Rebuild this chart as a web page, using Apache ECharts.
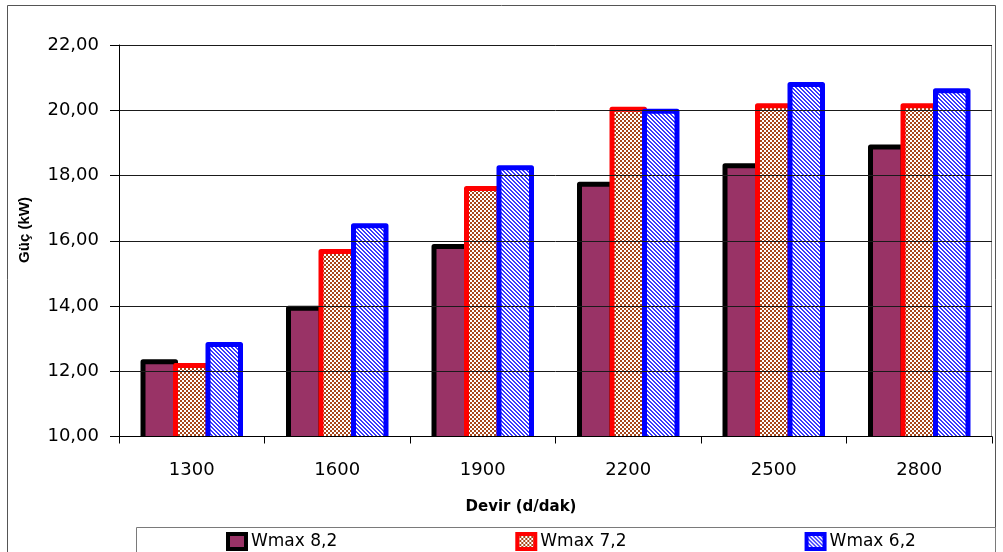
<!DOCTYPE html>
<html>
<head>
<meta charset="utf-8">
<title>Güç - Devir</title>
<script src="https://cdn.jsdelivr.net/npm/echarts@6/dist/echarts.min.js"></script>
<style>
  html, body { margin: 0; padding: 0; background: #fff; }
  #chart { width: 1003px; height: 552px; }
</style>
</head>
<body>
<div id="chart"></div>
<script>
// Engine speed categories (d/dak)
const categories = ['1300', '1600', '1900', '2200', '2500', '2800'];

// Power (kW) per series
const wmax82 = [12.29, 13.93, 15.82, 17.73, 18.30, 18.87];
const wmax72 = [12.18, 15.67, 17.60, 20.03, 20.14, 20.14];
const wmax62 = [12.82, 16.46, 18.24, 19.97, 20.79, 20.60];

// Value axis range and step
const yMin = 10;
const yMax = 22;
const yStep = 2;

const seriesNames = ['Wmax 8,2', 'Wmax 7,2', 'Wmax 6,2'];

// Small repeating tiles used as hatch fills
function checkerTile() {
  const c = document.createElement('canvas');
  c.width = 4; c.height = 4;
  const g = c.getContext('2d');
  g.fillStyle = '#ffffff';
  g.fillRect(0, 0, 4, 4);
  g.fillStyle = '#a8461a';
  g.fillRect(0, 0, 2, 2);
  g.fillRect(2, 2, 2, 2);
  return c;
}
function diagonalTile() {
  const c = document.createElement('canvas');
  c.width = 4; c.height = 4;
  const g = c.getContext('2d');
  g.fillStyle = '#ffffff';
  g.fillRect(0, 0, 4, 4);
  g.fillStyle = '#3a3aff';
  for (let y = 0; y < 4; y++) {
    for (let x = 0; x < 4; x++) {
      const d = ((x - y) % 4 + 4) % 4;
      if (d === 0 || d === 1) g.fillRect(x, y, 1, 1);
    }
  }
  return c;
}

const styles = [
  { fill: '#993366', stroke: '#000000' },
  { fill: { image: checkerTile(), repeat: 'repeat' }, stroke: '#ff0000' },
  { fill: { image: diagonalTile(), repeat: 'repeat' }, stroke: '#0000ff' }
];

const fmt = v => v.toFixed(2).replace('.', ',');

// Clustered bars: three bars share 67% of each category band, borders centred on the edges
const GROUP_RATIO = 0.67;
function makeBarRenderer(s) {
  return function (params, api) {
    const idx = api.value(0);
    const val = api.value(1);
    const top = api.coord([idx, val]);
    const base = api.coord([idx, yMin]);
    const band = api.size([1, 0])[0];
    const group = band * GROUP_RATIO;
    const w = group / 3;
    const x = top[0] - group / 2 + s * w;
    return {
      type: 'rect',
      shape: { x: x, y: top[1], width: w, height: base[1] - top[1] + 10 },
      style: {
        fill: styles[s].fill,
        stroke: styles[s].stroke,
        lineWidth: 5,
        lineJoin: 'round'
      }
    };
  };
}

function toPairs(arr) {
  return arr.map((v, i) => [i, v]);
}

const seriesData = [wmax82, wmax72, wmax62];

const chart = echarts.init(document.getElementById('chart'), null, { renderer: 'canvas' });

chart.setOption({
  animation: false,
  backgroundColor: '#ffffff',
  textStyle: { fontFamily: 'DejaVu Sans' },
  grid: { left: 119, right: 11, top: 45, bottom: 115.5, containLabel: false },
  legend: {
    data: seriesNames.map((n, s) => ({
      name: n,
      itemStyle: { color: styles[s].fill, borderColor: styles[s].stroke, borderWidth: 4 }
    })),
    left: 221,
    top: 527,
    itemWidth: 18,
    itemHeight: 15,
    itemGap: 178,
    icon: 'rect',
    textStyle: { fontFamily: 'DejaVu Sans', fontSize: 17, color: '#000' }
  },
  xAxis: {
    type: 'category',
    data: categories,
    boundaryGap: true,
    z: 5,
    axisLine: { lineStyle: { color: '#000', width: 1 } },
    axisTick: { show: true, alignWithLabel: false, length: 7, lineStyle: { color: '#000' } },
    axisLabel: { color: '#000', fontSize: 18, margin: 25, fontFamily: 'DejaVu Sans' },
    splitLine: { show: false }
  },
  yAxis: {
    type: 'value',
    min: yMin,
    max: yMax,
    interval: yStep,
    z: 5,
    axisLine: { show: true, lineStyle: { color: '#000', width: 1 } },
    axisTick: { show: true, length: 9, lineStyle: { color: '#000' } },
    axisLabel: { color: '#000', fontSize: 18, margin: 20, fontFamily: 'DejaVu Sans', formatter: fmt },
    splitLine: { show: true, lineStyle: { color: '#1a1a1a', width: 1 } }
  },
  graphic: [
    {
      type: 'rect',
      silent: true,
      z: -10,
      shape: { x: 7.5, y: 5.5, width: 988, height: 600 },
      style: { fill: 'none', stroke: '#555', lineWidth: 1 }
    },
    {
      type: 'rect',
      silent: true,
      z: -5,
      shape: { x: 119.5, y: 45.5, width: 872, height: 391 },
      style: { fill: 'none', stroke: '#888', lineWidth: 1 }
    },
    {
      type: 'rect',
      silent: true,
      z: -1,
      shape: { x: 136.5, y: 527.5, width: 859, height: 40 },
      style: { fill: '#fff', stroke: '#7a7a7a', lineWidth: 1 }
    },
    {
      type: 'text',
      silent: true,
      x: 24.5,
      y: 230,
      rotation: Math.PI / 2,
      style: {
        text: 'Güç (kW)',
        font: 'bold 15px "Liberation Sans"',
        fill: '#000',
        align: 'center',
        verticalAlign: 'middle'
      }
    },
    {
      type: 'text',
      silent: true,
      x: 521,
      y: 507,
      style: {
        text: 'Devir (d/dak)',
        font: 'bold 15px "DejaVu Sans"',
        fill: '#000',
        align: 'center',
        verticalAlign: 'middle'
      }
    }
  ],
  series: seriesData.map((arr, s) => ({
    type: 'custom',
    name: seriesNames[s],
    data: toPairs(arr),
    encode: { x: 0, y: 1 },
    clip: true,
    itemStyle: { color: typeof styles[s].fill === 'string' ? styles[s].fill : styles[s].stroke, borderColor: styles[s].stroke },
    renderItem: makeBarRenderer(s)
  }))
});
</script>
</body>
</html>
